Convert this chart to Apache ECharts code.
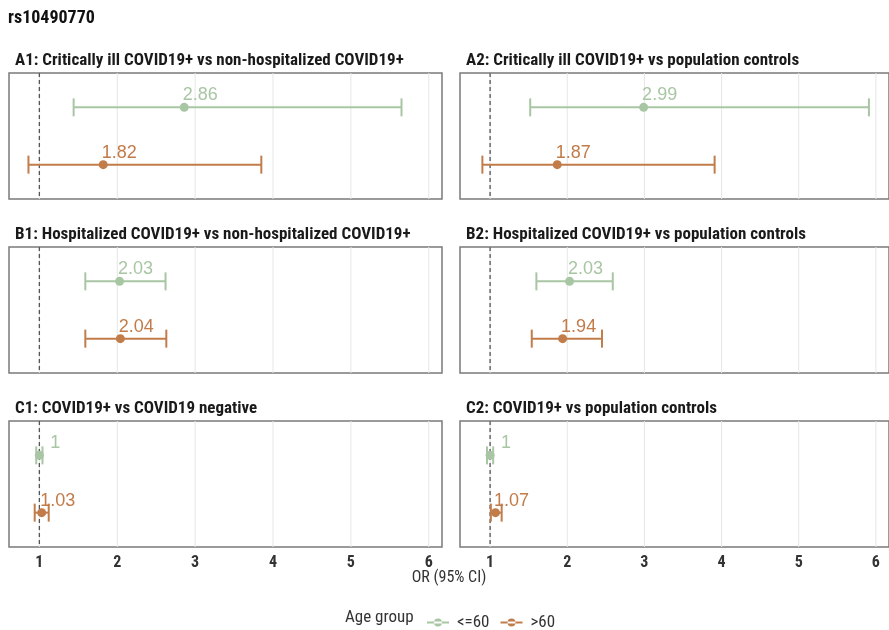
<!DOCTYPE html>
<html>
<head>
<meta charset="utf-8">
<script src="https://cdn.jsdelivr.net/npm/echarts@6/dist/echarts.min.js"></script>
<style>
  html, body { margin: 0; padding: 0; background: #fff; }
  #chart { width: 889px; height: 630px; }
</style>
</head>
<body>
<div id="chart"></div>
<script>
// Odds ratios (95% CI) for rs10490770, split by age group
const mainTitle = 'rs10490770';
const panelTitles = [
  'A1: Critically ill COVID19+ vs non-hospitalized COVID19+',
  'A2: Critically ill COVID19+ vs population controls',
  'B1: Hospitalized COVID19+ vs non-hospitalized COVID19+',
  'B2: Hospitalized COVID19+ vs population controls',
  'C1: COVID19+ vs COVID19 negative',
  'C2: COVID19+ vs population controls'
];
const groups = ['<=60', '>60'];

// age <= 60
const orYoung = [2.86, 2.99, 2.03, 2.03, 1, 1];
const loYoung = [1.44, 1.52, 1.59, 1.60, 0.96, 0.96];
const hiYoung = [5.65, 5.91, 2.62, 2.59, 1.04, 1.04];
// age > 60
const orOld = [1.82, 1.87, 2.04, 1.94, 1.03, 1.07];
const loOld = [0.86, 0.90, 1.59, 1.54, 0.94, 1.01];
const hiOld = [3.85, 3.91, 2.63, 2.45, 1.12, 1.15];

const xTicks = [1, 2, 3, 4, 5, 6];
const refOR = 1;
const xLabel = 'OR (95% CI)';
const legendTitle = 'Age group';

const colors = ['#a9c6a4', '#c27c4a'];
const narrow = '"Roboto Condensed", "Liberation Sans Narrow", Roboto, sans-serif';
const plain = '"Liberation Sans", Arial, sans-serif';

const chart = echarts.init(document.getElementById('chart'), null, { renderer: 'canvas' });

const grids = [], xAxes = [], yAxes = [], series = [], graphics = [];
const colLeft = [9, 460];
const rowTop = [73, 247, 421];
const panelW = 433, panelH = 126;

function errorBarRender(params, api) {
  const y = api.value(2);
  const a = api.coord([api.value(0), y]);
  const b = api.coord([api.value(1), y]);
  const cap = 9;
  const style = { stroke: api.visual('color'), lineWidth: 2 };
  return {
    type: 'group',
    children: [
      { type: 'line', shape: { x1: a[0], y1: a[1], x2: b[0], y2: b[1] }, style },
      { type: 'line', shape: { x1: a[0], y1: a[1] - cap, x2: a[0], y2: a[1] + cap }, style },
      { type: 'line', shape: { x1: b[0], y1: b[1] - cap, x2: b[0], y2: b[1] + cap }, style }
    ]
  };
}

function vLineRender(lineStyle) {
  return function (params, api) {
    const v = api.value(0);
    const t = api.coord([v, 0.4]);
    const b = api.coord([v, 2.6]);
    return { type: 'line', shape: { x1: t[0], y1: t[1], x2: b[0], y2: b[1] }, style: lineStyle };
  };
}

for (let i = 0; i < 6; i++) {
  const row = Math.floor(i / 2), col = i % 2;
  const bottomRow = row === 2;
  grids.push({
    left: colLeft[col], top: rowTop[row], width: panelW, height: panelH,
    show: true, borderColor: '#7a7a7a', borderWidth: 1.5, backgroundColor: '#fff',
    containLabel: false
  });
  xAxes.push({
    type: 'value', gridIndex: i, min: 0.61, max: 6.17,
    axisLine: { show: false }, axisTick: { show: false }, splitLine: { show: false },
    axisLabel: {
      show: bottomRow, customValues: xTicks, margin: 8,
      color: '#333', fontFamily: narrow, fontWeight: 'bold', fontSize: 16,
      formatter: v => String(v)
    }
  });
  yAxes.push({
    type: 'value', gridIndex: i, min: 0.4, max: 2.6, inverse: true, show: false
  });

  // panel title
  graphics.push({
    type: 'text', x: colLeft[col] + 6, y: rowTop[row] - 12,
    style: { text: panelTitles[i], font: 'bold 17px ' + narrow, fill: '#1a1a1a',
             textAlign: 'left', textVerticalAlign: 'middle' }
  });

  // vertical gridlines
  series.push({
    type: 'custom', xAxisIndex: i, yAxisIndex: i, z: 1, silent: true,
    encode: { x: 0 }, data: xTicks.map(v => [v]),
    renderItem: vLineRender({ stroke: '#e6e6e6', lineWidth: 1 })
  });
  // reference line at OR = 1
  series.push({
    type: 'custom', xAxisIndex: i, yAxisIndex: i, z: 2, silent: true,
    encode: { x: 0 }, data: [[refOR]],
    renderItem: vLineRender({ stroke: '#555', lineWidth: 1.3, lineDash: [4, 3] })
  });

  const rows = [
    { name: groups[0], or: orYoung[i], lo: loYoung[i], hi: hiYoung[i], y: 1, color: colors[0] },
    { name: groups[1], or: orOld[i], lo: loOld[i], hi: hiOld[i], y: 2, color: colors[1] }
  ];
  rows.forEach(r => {
    series.push({
      type: 'custom', name: r.name, xAxisIndex: i, yAxisIndex: i, z: 3, silent: true,
      itemStyle: { color: r.color },
      encode: { x: [0, 1], y: 2 },
      data: [[r.lo, r.hi, r.y]],
      renderItem: errorBarRender
    });
    series.push({
      type: 'scatter', name: r.name, xAxisIndex: i, yAxisIndex: i, z: 4, silent: true,
      symbol: 'circle', symbolSize: 9,
      itemStyle: { color: r.color, opacity: 1 },
      data: [[r.or, r.y]],
      label: {
        show: true, position: 'inside', offset: [16, -12],
        formatter: p => String(p.value[0]),
        color: r.color, fontFamily: plain, fontSize: 18
      }
    });
  });
}

// overall title, x-axis title and legend heading
graphics.push({
  type: 'text', x: 8, y: 18,
  style: { text: mainTitle, font: 'bold 18px ' + narrow, fill: '#111',
           textAlign: 'left', textVerticalAlign: 'middle' }
});
graphics.push({
  type: 'text', x: 449, y: 578,
  style: { text: xLabel, font: '16px ' + narrow, fill: '#333',
           textAlign: 'center', textVerticalAlign: 'middle' }
});
graphics.push({
  type: 'text', x: 345, y: 618,
  style: { text: legendTitle, font: '17px ' + narrow, fill: '#333',
           textAlign: 'left', textVerticalAlign: 'middle' }
});

chart.setOption({
  animation: false,
  backgroundColor: '#fff',
  grid: grids,
  xAxis: xAxes,
  yAxis: yAxes,
  series: series,
  graphic: graphics,
  legend: {
    data: groups.map((g, k) => ({
      name: g,
      icon: 'path://M0,3 L22,3 L22,5 L0,5 Z M7,4 A4,4 0 1 0 15,4 A4,4 0 1 0 7,4 Z',
      itemStyle: { color: colors[k] }
    })),
    left: 422, top: 609, itemWidth: 22, itemHeight: 8, itemGap: 11,
    textStyle: { color: '#333', fontFamily: narrow, fontSize: 17, padding: [0, 0, 0, 3] },
    selectedMode: false
  }
});
</script>
</body>
</html>
